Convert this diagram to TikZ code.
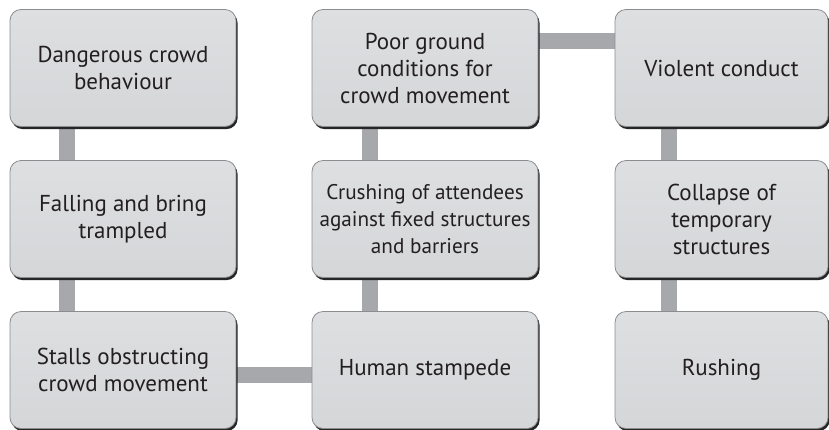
\documentclass[tikz,border=0pt]{standalone}
\usepackage{fontspec}
\setmainfont{PT Sans}
\usetikzlibrary{shadows,backgrounds}
\definecolor{boxfill}{HTML}{D5D6D8}
\definecolor{boxtop}{HTML}{DEDFE1}
\definecolor{boxedge}{HTML}{8C8D90}
\definecolor{linkgray}{HTML}{A7A8AB}
\definecolor{txt}{HTML}{231F20}
\tikzset{
  card/.style={rounded corners=11pt, draw=boxedge, line width=0.8pt,
    top color=boxtop, bottom color=boxfill,
    drop shadow={shadow xshift=1.6pt, shadow yshift=-2.6pt, fill=black!85, opacity=1},
    align=center, text=txt, font=\fontsize{23}{27}\selectfont,
    inner sep=0pt, outer sep=0pt},
  wide/.style={card, minimum width=226pt, minimum height=117pt},
  narrow/.style={card, minimum width=213pt, minimum height=117pt},
  link/.style={draw=linkgray, line width=16pt}
}
\begin{document}
\begin{tikzpicture}[x=1pt,y=-1pt]
\useasboundingbox (0,0) rectangle (829,429);
\node[wide] (dcb) at (123,68) {Dangerous crowd\\behaviour};
\node[wide] (fbt) at (123,219) {Falling and bring\\trampled};
\node[wide] (soc) at (123,370) {Stalls obstructing\\crowd movement};
\node[wide] (pgc) at (425,68) {Poor ground\\conditions for\\crowd movement};
\node[wide, font=\fontsize{21.2}{27}\selectfont] (coa) at (425,219) {Crushing of attendees\\against fixed structures\\and barriers};
\node[wide] (hst) at (425,370) {Human stampede};
\node[narrow] (vic) at (721.5,68) {Violent conduct};
\node[narrow] (cts) at (721.5,219) {Collapse of\\temporary\\structures};
\node[narrow] (rsh) at (721.5,370) {Rushing};
\begin{scope}[on background layer]
\draw[link] ([xshift=-56pt]dcb.south) -- ([xshift=-56pt]fbt.north);
\draw[link] ([xshift=-56pt]fbt.south) -- ([xshift=-56pt]soc.north);
\draw[link] ([yshift=-5pt]soc.east) -- ([yshift=-5pt]hst.west);
\draw[link] ([xshift=-55pt]hst.north) -- ([xshift=-55pt]coa.south);
\draw[link] ([xshift=-55pt]coa.north) -- ([xshift=-55pt]pgc.south);
\draw[link] ([yshift=27pt]pgc.east) -- ([yshift=27pt]vic.west);
\draw[link] ([xshift=-52.5pt]vic.south) -- ([xshift=-52.5pt]cts.north);
\draw[link] ([xshift=-52.5pt]cts.south) -- ([xshift=-52.5pt]rsh.north);
\end{scope}
\end{tikzpicture}
\end{document}
